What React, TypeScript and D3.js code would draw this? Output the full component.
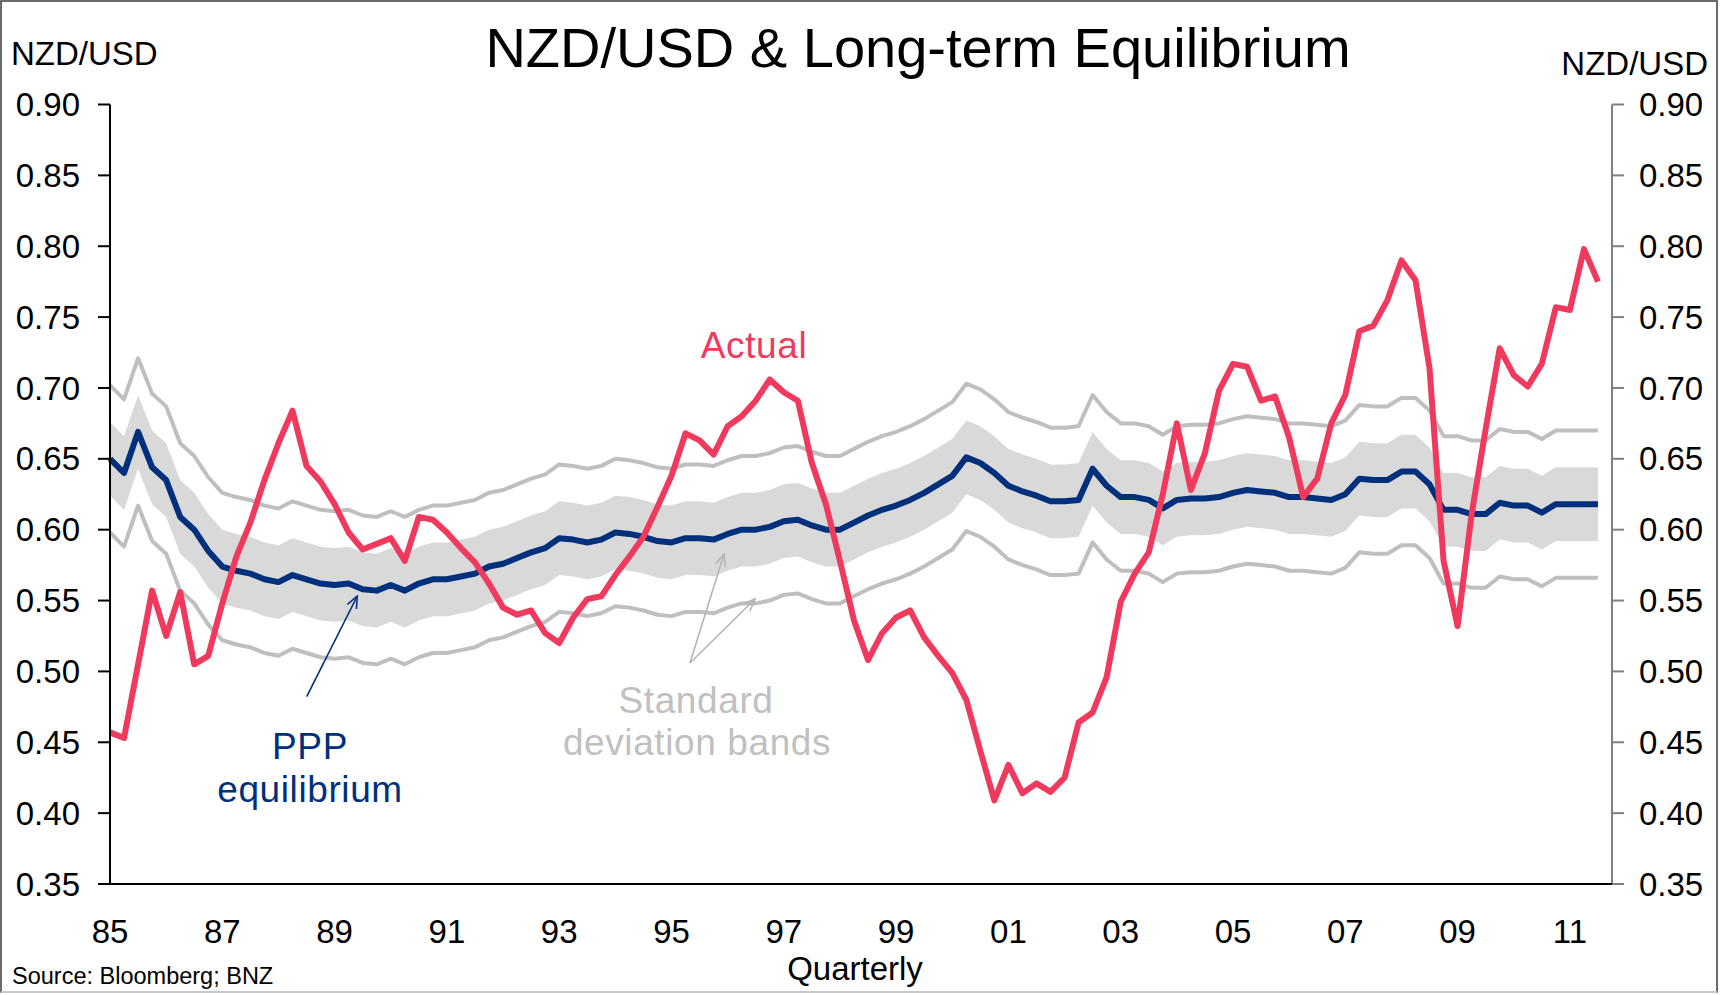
import React from "react";
import * as d3 from "d3";

// Quarterly observations, 1985 Q1 – 2011 Q3
const actual: number[] = [
  0.457, 0.453, 0.505, 0.557, 0.525, 0.556, 0.505, 0.511, 0.548, 0.581,
  0.605, 0.635, 0.661, 0.684, 0.645, 0.634, 0.618, 0.598, 0.586, 0.590,
  0.594, 0.578, 0.609, 0.607, 0.598, 0.587, 0.577, 0.562, 0.545, 0.540,
  0.543, 0.527, 0.520, 0.538, 0.551, 0.553, 0.568, 0.581, 0.595, 0.616,
  0.638, 0.668, 0.663, 0.653, 0.673, 0.680, 0.691, 0.706, 0.697, 0.691,
  0.647, 0.618, 0.578, 0.536, 0.508, 0.527, 0.538, 0.543, 0.524, 0.511,
  0.499, 0.480, 0.444, 0.409, 0.434, 0.414, 0.421, 0.415, 0.425, 0.464,
  0.471, 0.496, 0.549, 0.569, 0.584, 0.625, 0.675, 0.628, 0.654, 0.698,
  0.717, 0.715, 0.691, 0.694, 0.665, 0.623, 0.636, 0.675, 0.695, 0.740,
  0.744, 0.762, 0.790, 0.776, 0.714, 0.578, 0.532, 0.611, 0.671, 0.728,
  0.709, 0.701, 0.717, 0.757, 0.755, 0.798, 0.775,
];

const ppp: number[] = [
  0.650, 0.640, 0.669, 0.644, 0.635, 0.609, 0.600, 0.585, 0.574, 0.571,
  0.569, 0.565, 0.563, 0.568, 0.565, 0.562, 0.561, 0.562, 0.558, 0.557,
  0.561, 0.557, 0.562, 0.565, 0.565, 0.567, 0.569, 0.574, 0.576, 0.580,
  0.584, 0.587, 0.594, 0.593, 0.591, 0.593, 0.598, 0.597, 0.595, 0.592,
  0.591, 0.594, 0.594, 0.593, 0.597, 0.600, 0.600, 0.602, 0.606, 0.607,
  0.603, 0.600, 0.600, 0.605, 0.610, 0.614, 0.617, 0.621, 0.626, 0.632,
  0.638, 0.651, 0.647, 0.640, 0.631, 0.627, 0.624, 0.620, 0.620, 0.621,
  0.643, 0.631, 0.623, 0.623, 0.621, 0.615, 0.621, 0.622, 0.622, 0.623,
  0.626, 0.628, 0.627, 0.626, 0.623, 0.623, 0.622, 0.621, 0.625, 0.636,
  0.635, 0.635, 0.641, 0.641, 0.632, 0.614, 0.614, 0.611, 0.611, 0.619,
  0.617, 0.617, 0.612, 0.618, 0.618, 0.618, 0.618,
];

// One standard deviation of the actual rate around PPP
const stdDev = 0.026;

const yTicks: number[] = [0.35, 0.4, 0.45, 0.5, 0.55, 0.6, 0.65, 0.7, 0.75, 0.8, 0.85, 0.9];
const xLabels: string[] = ["85", "87", "89", "91", "93", "95", "97", "99", "01", "03", "05", "07", "09", "11"];
const xLabelIndex: number[] = [0, 8, 16, 24, 32, 40, 48, 56, 64, 72, 80, 88, 96, 104];

const W = 1720;
const H = 995;
const FONT = "'Liberation Sans', Arial, Helvetica, sans-serif";

const RED = "#EF3A5D";
const NAVY = "#00307C";
const BAND = "#D9D9D9";
const LINE_GREY = "#BFBFBF";

export default function App() {
  const x = d3.scaleLinear().domain([0, 107]).range([110, 1612]);
  const y = d3.scaleLinear().domain([0.35, 0.9]).range([884, 104.5]);

  const line = d3
    .line<number>()
    .x((_, i) => x(i))
    .y((d) => y(d));

  const band = d3
    .area<number>()
    .x((_, i) => x(i))
    .y0((d) => y(d - stdDev))
    .y1((d) => y(d + stdDev));

  const upper2 = ppp.map((v) => v + 2 * stdDev);
  const lower2 = ppp.map((v) => v - 2 * stdDev);

  const fmt = d3.format(".2f");
  const [x0, x1] = x.range();
  const [yb, yt] = y.range();

  return (
    <svg
      width={W}
      height={H}
      viewBox={`0 0 ${W} ${H}`}
      style={{ position: "absolute", left: 0, top: 0, display: "block", background: "#fff" }}
      fontFamily={FONT}
    >
      <defs>
        <marker id="headNavy" viewBox="0 0 14 12" refX="13" refY="6" markerWidth="14" markerHeight="12" markerUnits="userSpaceOnUse" orient="auto">
          <path d="M1,1 L13,6 L1,11" fill="none" stroke={NAVY} strokeWidth={1.6} />
        </marker>
        <marker id="headGrey" viewBox="0 0 14 12" refX="13" refY="6" markerWidth="14" markerHeight="12" markerUnits="userSpaceOnUse" orient="auto">
          <path d="M1,1 L13,6 L1,11" fill="none" stroke="#B5B5B5" strokeWidth={1.6} />
        </marker>
      </defs>

      {/* frame */}
      <rect x={1} y={1} width={W - 4} height={H - 4} fill="none" stroke="#3a3a3a" strokeWidth={1.5} />
      <line x1={1} x2={W - 3} y1={H - 3} y2={H - 3} stroke="#C8C8C8" strokeWidth={2} />

      {/* title */}
      <text x={918} y={67} textAnchor="middle" fontSize={56} fill="#000">
        NZD/USD &amp; Long-term Equilibrium
      </text>
      <text x={11} y={65} fontSize={33} fill="#000">NZD/USD</text>
      <text x={1708} y={75} textAnchor="end" fontSize={33} fill="#000">NZD/USD</text>

      {/* deviation bands */}
      <path d={band(ppp) ?? ""} fill={BAND} />
      <path d={line(upper2) ?? ""} fill="none" stroke={LINE_GREY} strokeWidth={4} strokeLinejoin="round" />
      <path d={line(lower2) ?? ""} fill="none" stroke={LINE_GREY} strokeWidth={4} strokeLinejoin="round" />

      {/* PPP equilibrium */}
      <path d={line(ppp) ?? ""} fill="none" stroke={NAVY} strokeWidth={6} strokeLinejoin="round" />

      {/* actual NZD/USD */}
      <path d={line(actual) ?? ""} fill="none" stroke={RED} strokeWidth={6} strokeLinejoin="round" />

      {/* axes */}
      <line x1={x0} x2={x0} y1={yt} y2={yb} stroke="#000" strokeWidth={2} />
      <line x1={x1} x2={x1} y1={yt} y2={yb} stroke="#808080" strokeWidth={2} />
      <line x1={x0} x2={x1} y1={yb} y2={yb} stroke="#000" strokeWidth={2} />
      {yTicks.map((t) => (
        <g key={t}>
          <line x1={x0 - 12} x2={x0} y1={y(t)} y2={y(t)} stroke="#000" strokeWidth={2} />
          <line x1={x1} x2={x1 + 12} y1={y(t)} y2={y(t)} stroke="#808080" strokeWidth={2} />
          <text x={80} y={y(t)} dy="0.35em" textAnchor="end" fontSize={33} fill="#000">
            {fmt(t)}
          </text>
          <text x={1639} y={y(t)} dy="0.35em" textAnchor="start" fontSize={33} fill="#000">
            {fmt(t)}
          </text>
        </g>
      ))}
      {xLabels.map((lab, i) => (
        <text key={lab} x={x(xLabelIndex[i])} y={943} textAnchor="middle" fontSize={33} fill="#000">
          {lab}
        </text>
      ))}
      <text x={855} y={980} textAnchor="middle" fontSize={33} fill="#000">Quarterly</text>
      <text x={12} y={984} fontSize={23.5} fill="#000">Source: Bloomberg; BNZ</text>

      {/* annotations */}
      <text x={754} y={358} textAnchor="middle" fontSize={37} letterSpacing={0.6} fill={RED}>Actual</text>

      <line x1={306.7} y1={696.7} x2={357.3} y2={596} stroke={NAVY} strokeWidth={1.6} markerEnd="url(#headNavy)" />
      <text x={310} y={759} textAnchor="middle" fontSize={37} letterSpacing={0.6} fill={NAVY}>PPP</text>
      <text x={310} y={802} textAnchor="middle" fontSize={37} letterSpacing={0.6} fill={NAVY}>equilibrium</text>

      <line x1={690} y1={663} x2={724} y2={554} stroke="#B5B5B5" strokeWidth={1.6} markerEnd="url(#headGrey)" />
      <line x1={690} y1={663} x2={755} y2={599} stroke="#B5B5B5" strokeWidth={1.6} markerEnd="url(#headGrey)" />
      <text x={696} y={713} textAnchor="middle" fontSize={37} letterSpacing={0.6} fill="#C0C0C0">Standard</text>
      <text x={697} y={755} textAnchor="middle" fontSize={37} letterSpacing={0.6} fill="#C0C0C0">deviation bands</text>
    </svg>
  );
}
